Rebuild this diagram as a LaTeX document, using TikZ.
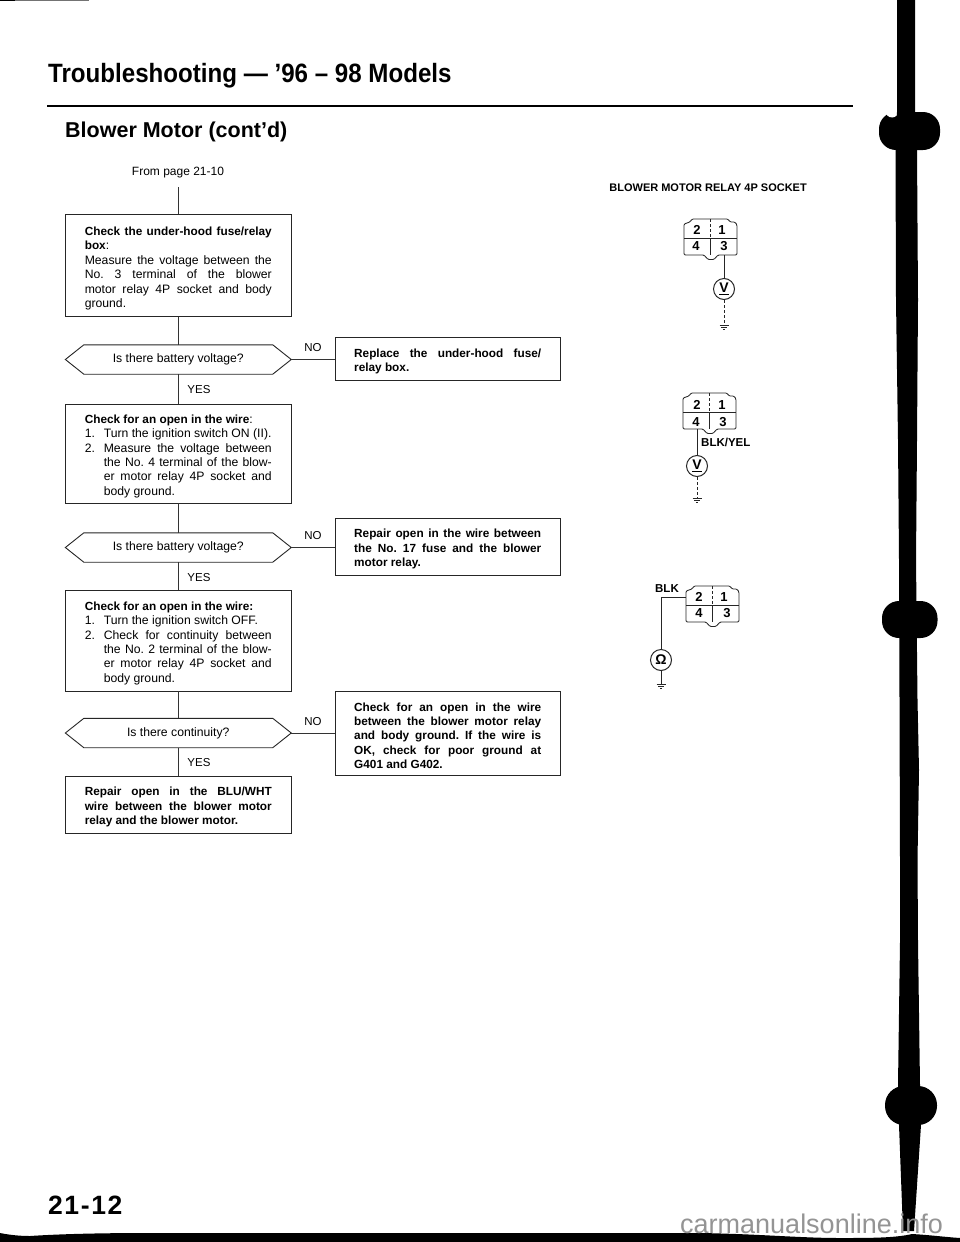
\documentclass[tikz,border=0pt]{standalone}
\usepackage{fontspec}
\setmainfont{Liberation Sans}
\newfontfamily\titlefont[FakeStretch=0.91]{Liberation Sans}
\newfontfamily\pagefont[LetterSpace=6]{Liberation Sans}
\newcommand{\bodyfnt}{\fontsize{12.2}{14.4}\selectfont\sloppy\frenchspacing\hyphenpenalty=10000 }
\newcommand{\bt}[1]{{\fontsize{11.8}{14.4}\selectfont\bfseries #1}}
\newcommand{\numitem}[2]{\par\hangindent=19pt\hangafter=1\noindent\makebox[19pt][l]{#1}#2\par}
\newcommand{\hexa}[3]{%
  \node[hexnode] (#1) at (178.3,#2) {\raisebox{-1.5pt}{#3}};
  \draw[boxline] (#1.west) -- ([xshift=18.5pt]#1.north west) -- ([xshift=-18.5pt]#1.north east)
    -- (#1.east) -- ([xshift=-18.5pt]#1.south east) -- ([xshift=18.5pt]#1.south west) -- cycle;
}
\newcommand{\sockbody}[1]{%
  \draw[sockline,rounded corners=1.2pt] (#1) ++(0,5) -- ++(6,-2) -- ++(2,-3) -- ++(36,0) -- ++(2,3)
    -- ++(5,0) -- ++(2,3) -- ++(0,30) -- ++(-19,0) -- ++(-4,4.5) -- ++(-6,0) -- ++(-4,-4.5) -- ++(-20,0) -- cycle;
  \draw[sockline] (#1) ++(0,19) -- ++(53,0);
  \draw[sockline,densely dashed] (#1) ++(26,0) -- ++(0,19);
  \draw[sockline] (#1) ++(26,19) -- ++(0,17);
}
\newcommand{\groundsym}[1]{%
  \draw[wire] (#1) ++(-4.5,0) -- ++(9,0);
  \draw[wire] (#1) ++(-2.8,2) -- ++(5.6,0);
  \draw[wire] (#1) ++(-1.2,4) -- ++(2.4,0);
}
\tikzset{
  boxline/.style={draw=black!85,line width=0.9pt},
  flowline/.style={draw=black!80,line width=0.9pt},
  wire/.style={draw=black!85,line width=1pt},
  sockline/.style={draw=black!85,line width=0.85pt},
  txtbox/.style={boxline,inner sep=0pt,text width=187pt,minimum width=225.5pt,align=justify,font=\bodyfnt,execute at begin node={\rule{0pt}{14pt}}},
  hexnode/.style={inner sep=0pt,minimum width=225.5pt,minimum height=29pt,font=\bodyfnt,align=center},
  lbl/.style={inner sep=0pt,font=\fontsize{11.5}{13}\selectfont},
  pin/.style={inner sep=0pt,anchor=base,font=\fontsize{13}{13}\selectfont\bfseries},
  wirelbl/.style={inner sep=0pt,font=\fontsize{11.5}{13}\selectfont\bfseries},
  meter/.style={circle,draw=black!85,line width=1pt,minimum size=21pt,inner sep=0pt,fill=white,font=\fontsize{14}{14}\selectfont\bfseries},
}
\begin{document}
\begin{tikzpicture}[x=1pt,y=-1pt]
\useasboundingbox (0,0) rectangle (960,1242);
\fill[white] (0,0) rectangle (960,1242);

% scan artefacts: black band and binding marks
\fill[black!55] (0,0) rectangle (89,0.9);
\fill[black] (0,0) rectangle (15,1.2);
\fill[black] (0,1233) .. controls (10,1235) and (20,1236) .. (30,1236) .. controls (60,1234) and (100,1233) .. (150,1233)
  -- (700,1233) .. controls (760,1234) and (800,1238) .. (840,1238) .. controls (870,1238) and (895,1238) .. (912,1234)
  .. controls (930,1235) and (945,1237) .. (960,1238) -- (960,1242) -- (0,1242) -- cycle;
\fill[black,rounded corners=17pt] (879,112) rectangle (940,150);
\fill[white] (892,111) ellipse (6.5pt and 6.5pt);
\fill[black] (897,0) -- (897,112) -- (895.5,150) -- (896,300) -- (898,440) -- (899,560) -- (899.5,700) -- (900,860) -- (900,942)
  -- (898,1085) -- (899,1125) -- (903,1231) -- (914,1231) -- (921,1125) -- (920,1085) -- (918,942) -- (917.5,860) -- (919,770)
  -- (917.5,700) -- (916,560) -- (917,440) -- (918,300) -- (917,150) -- (915,112) -- (915,0) -- cycle;
\fill[black,rounded corners=17pt] (882,601) rectangle (937.5,638);
\fill[black,rounded corners=19pt] (885,1086) rectangle (937,1125);

% headings
\node[anchor=base west,inner sep=0pt,font=\titlefont\fontsize{26.5}{30}\selectfont\bfseries] (title) at (48,82.7) {Troubleshooting — ’96 – 98 Models};
\coordinate (ruleL) at (47,106);
\coordinate (ruleR) at (853,106);
\draw[black,line width=1.9pt] (ruleL) -- (ruleR);
\node[anchor=base west,inner sep=0pt,font=\fontsize{21.5}{24}\selectfont\bfseries] (sub) at (65,137) {Blower Motor (cont’d)};
\node[inner sep=0pt,font=\fontsize{12}{14}\selectfont] (from) at (178,172.5) {From page 21-10};
\coordinate (fromend) at (178.3,187);

% flowchart boxes
\node[txtbox,draw,minimum height=102pt] (b1) at (178.3,265.8) {\bt{Check the under-hood fuse/relay\linebreak box}:\par\noindent Measure the voltage between the\linebreak No. 3 terminal of the blower\linebreak motor relay 4P socket and body\linebreak ground.};
\hexa{d1}{359.5}{Is there battery voltage?}
\node[txtbox,draw,minimum height=43pt] (r1) at (447.7,358.5) {\bt{Replace the under-hood fuse/\linebreak relay box.}};
\node[txtbox,draw,minimum height=99pt] (b2) at (178.3,453.5) {\bt{Check for an open in the wire}:\numitem{1.}{Turn the ignition switch ON (II).}\numitem{2.}{Measure the voltage between\linebreak the No. 4 terminal of the blow-\linebreak er motor relay 4P socket and\linebreak body ground.}};
\hexa{d2}{547.5}{Is there battery voltage?}
\node[txtbox,draw,minimum height=57pt] (r2) at (447.7,546.5) {\bt{Repair open in the wire between\linebreak the No. 17 fuse and the blower\linebreak motor relay.}};
\node[txtbox,draw,minimum height=101pt] (b3) at (178.3,640.5) {\bt{Check for an open in the wire:}\numitem{1.}{Turn the ignition switch OFF.}\numitem{2.}{Check for continuity between\linebreak the No. 2 terminal of the blow-\linebreak er motor relay 4P socket and\linebreak body ground.}};
\hexa{d3}{733}{Is there continuity?}
\node[txtbox,draw,minimum height=84pt] (r3) at (447.7,733) {\bt{Check for an open in the wire\linebreak between the blower motor relay\linebreak and body ground. If the wire is\linebreak OK, check for poor ground at\linebreak G401 and G402.}};
\node[txtbox,draw,minimum height=57pt] (b4) at (178.3,804.5) {\bt{Repair open in the BLU/WHT\linebreak wire between the blower motor\linebreak relay and the blower motor.}};

% flow connectors
\draw[flowline] (fromend) -- (b1.north);
\draw[flowline] (b1.south) -- (d1.north);
\draw[flowline] (d1.south) -- (b2.north);
\draw[flowline] (b2.south) -- (d2.north);
\draw[flowline] (d2.south) -- (b3.north);
\draw[flowline] (b3.south) -- (d3.north);
\draw[flowline] (d3.south) -- (b4.north);
\draw[flowline] (d1.east) -- (d1.east -| r1.west);
\draw[flowline] (d2.east) -- (d2.east -| r2.west);
\draw[flowline] (d3.east) -- (d3.east -| r3.west);

% NO / YES labels
\node[lbl] (no1) at (313,348) {NO};
\node[lbl] (no2) at (313,536) {NO};
\node[lbl] (no3) at (313,722) {NO};
\node[lbl] (yes1) at (199,390) {YES};
\node[lbl] (yes2) at (199,577.5) {YES};
\node[lbl] (yes3) at (199,762.5) {YES};

% socket heading
\node[anchor=base east,inner sep=0pt,font=\fontsize{11}{13}\selectfont\bfseries] (sockhead) at (807,191) {BLOWER MOTOR RELAY 4P SOCKET};

% socket 1
\coordinate (s1) at (684,219);
\sockbody{s1}
\node[pin] (s1p2) at (697,234) {2};
\node[pin] (s1p1) at (722,234) {1};
\node[pin] (s1p4) at (696,250.5) {4};
\node[pin] (s1p3) at (724,250.5) {3};
\coordinate (s1w) at (724,255);
\node[meter] (m1) at (724,289) {\underline{V}};
\coordinate (g1) at (724,325);
\draw[wire] (s1w) -- (m1.north);
\draw[wire,densely dashed] (m1.south) -- (g1);
\groundsym{g1}

% socket 2
\coordinate (s2) at (683,393);
\sockbody{s2}
\node[pin] (s2p2) at (697,409.5) {2};
\node[pin] (s2p1) at (722,409.5) {1};
\node[pin] (s2p4) at (696,426.5) {4};
\node[pin] (s2p3) at (723,426.5) {3};
\coordinate (s2w) at (697,429);
\node[meter] (m2) at (697,466) {\underline{V}};
\coordinate (g2) at (697,498);
\draw[wire] (s2w) -- (m2.north);
\draw[wire,densely dashed] (m2.south) -- (g2);
\groundsym{g2}
\node[wirelbl,anchor=west] (blkyel) at (701,442) {BLK/YEL};

% socket 3
\coordinate (s3) at (686,586);
\sockbody{s3}
\node[pin] (s3p2) at (699,601.5) {2};
\node[pin] (s3p1) at (724,601.5) {1};
\node[pin] (s3p4) at (699,617.5) {4};
\node[pin] (s3p3) at (727,617.5) {3};
\coordinate (s3w) at (686,597);
\node[meter] (m3) at (661,660) {Ω};
\coordinate (g3) at (661,684);
\draw[wire] (s3w) -- (s3w -| m3.north) -- (m3.north);
\draw[wire] (m3.south) -- (g3);
\groundsym{g3}
\node[wirelbl,anchor=east] (blk) at (679,589) {BLK};

% page number and watermark
\node[anchor=base west,inner sep=0pt,font=\pagefont\fontsize{26.5}{30}\selectfont\bfseries] (pageno) at (48,1214) {21-12};
\node[anchor=base west,inner sep=0pt,text=black!42,font=\fontsize{27}{30}\selectfont] (mark) at (680,1233) {carmanualsonline.info};
\end{tikzpicture}
\end{document}
